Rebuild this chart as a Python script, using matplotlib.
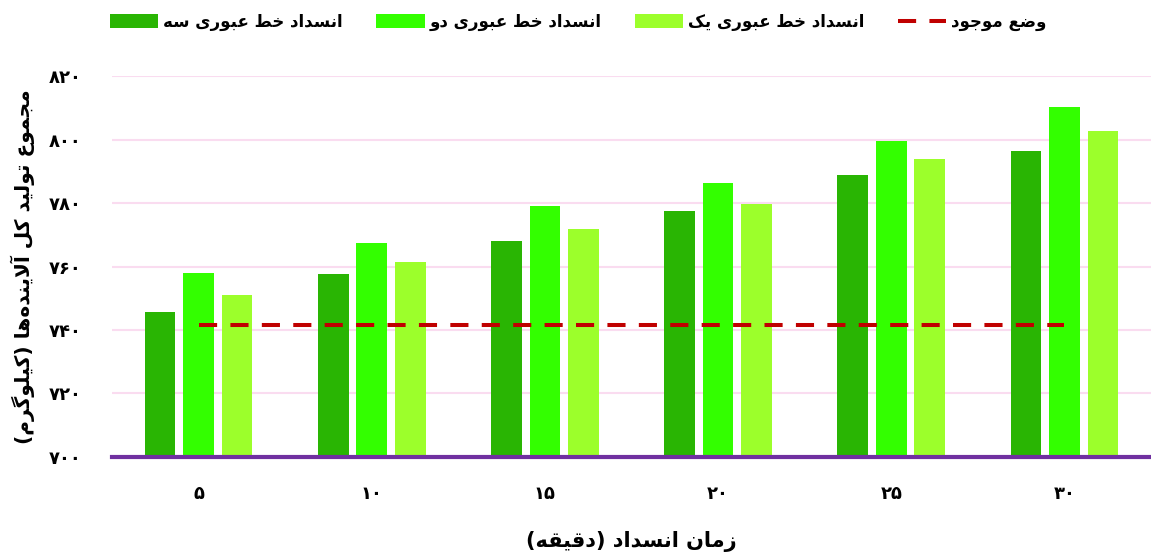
import matplotlib
matplotlib.use('Agg')
import matplotlib.pyplot as plt
import numpy as np

# داده‌ها
minutes = [5, 10, 15, 20, 25, 30]
line3 = [745.7, 757.6, 768.0, 777.5, 788.8, 796.4]   # انسداد خط عبوری سه
line2 = [758.0, 767.4, 779.0, 786.3, 799.5, 810.2]   # انسداد خط عبوری دو
line1 = [751.0, 761.4, 771.8, 779.7, 793.9, 802.7]   # انسداد خط عبوری یک
current = [741.6, 741.6, 741.6, 741.6, 741.6, 741.6]  # وضع موجود

y_ticks = [700, 720, 740, 760, 780, 800, 820]

labels = ['انسداد خط عبوری سه', 'انسداد خط عبوری دو', 'انسداد خط عبوری یک', 'وضع موجود']
x_title = 'زمان انسداد (دقیقه)'
y_title = 'مجموع تولید کل آلاینده‌ها (کیلوگرم)'

# شکل‌دهی ساده حروف فارسی (matplotlib خودش این کار را نمی‌کند)
FORMS = {
    'ا': ('\uFE8D', '\uFE8E', None, None),
    'آ': ('\uFE81', '\uFE82', None, None),
    'د': ('\uFEA9', '\uFEAA', None, None),
    'ر': ('\uFEAD', '\uFEAE', None, None),
    'ز': ('\uFEAF', '\uFEB0', None, None),
    'و': ('\uFEED', '\uFEEE', None, None),
    'ب': ('\uFE8F', '\uFE90', '\uFE91', '\uFE92'),
    'ت': ('\uFE95', '\uFE96', '\uFE97', '\uFE98'),
    'ج': ('\uFE9D', '\uFE9E', '\uFE9F', '\uFEA0'),
    'خ': ('\uFEA5', '\uFEA6', '\uFEA7', '\uFEA8'),
    'س': ('\uFEB1', '\uFEB2', '\uFEB3', '\uFEB4'),
    'ض': ('\uFEBD', '\uFEBE', '\uFEBF', '\uFEC0'),
    'ط': ('\uFEC1', '\uFEC2', '\uFEC3', '\uFEC4'),
    'ع': ('\uFEC9', '\uFECA', '\uFECB', '\uFECC'),
    'ق': ('\uFED5', '\uFED6', '\uFED7', '\uFED8'),
    'ل': ('\uFEDD', '\uFEDE', '\uFEDF', '\uFEE0'),
    'م': ('\uFEE1', '\uFEE2', '\uFEE3', '\uFEE4'),
    'ن': ('\uFEE5', '\uFEE6', '\uFEE7', '\uFEE8'),
    'ه': ('\uFEE9', '\uFEEA', '\uFEEB', '\uFEEC'),
    'ی': ('\uFBFC', '\uFBFD', '\uFBFE', '\uFBFF'),
    'ک': ('\uFB8E', '\uFB8F', '\uFB90', '\uFB91'),
    'گ': ('\uFB92', '\uFB93', '\uFB94', '\uFB95'),
}
LAM_ALEF = {'ا': ('\uFEFB', '\uFEFC'), 'آ': ('\uFEF5', '\uFEF6')}
MIRROR = {'(': ')', ')': '('}


def dual(c):
    return c in FORMS and FORMS[c][2] is not None


def fa(text):
    out = []
    i = 0
    n = len(text)
    while i < n:
        c = text[i]
        if c == '\u200c':
            i += 1
            continue
        if c not in FORMS:
            out.append(MIRROR.get(c, c))
            i += 1
            continue
        prev = text[i - 1] if i > 0 else ''
        nxt = text[i + 1] if i + 1 < n else ''
        join_prev = dual(prev)
        if c == 'ل' and nxt in LAM_ALEF:
            out.append(LAM_ALEF[nxt][1 if join_prev else 0])
            i += 2
            continue
        join_next = dual(c) and nxt in FORMS
        iso, fin, ini, med = FORMS[c]
        if join_prev and join_next:
            out.append(med)
        elif join_prev:
            out.append(fin)
        elif join_next:
            out.append(ini)
        else:
            out.append(iso)
        i += 1
    return ''.join(reversed(out))


def fa_num(v):
    return str(v).translate(str.maketrans('0123456789', '۰۱۲۳۴۵۶۷۸۹'))


plt.rcParams['font.family'] = ['DejaVu Sans']
plt.rcParams['font.weight'] = 'bold'

fig = plt.figure(figsize=(11.51, 5.55), dpi=100)
ax = fig.add_axes([0.0973, 0.1766, 0.9027, 0.6864])

x = np.arange(len(minutes))
w = 0.177
step = 0.222
b3 = ax.bar(x - step, line3, w, color='#29b503', label=fa(labels[0]), zorder=2)
b2 = ax.bar(x, line2, w, color='#33ff00', label=fa(labels[1]), zorder=2)
b1 = ax.bar(x + step, line1, w, color='#9cff2b', label=fa(labels[2]), zorder=2)
ln, = ax.plot(x, current, color='#c00000', linewidth=2.9, dashes=(4.5, 3.3),
              label=fa(labels[3]), zorder=3)

ax.set_xlim(-0.5, 5.5)
ax.set_ylim(700, 820)
ax.set_yticks(y_ticks)
ax.set_yticklabels([fa_num(v) for v in y_ticks], fontsize=13, fontweight='bold')
ax.set_xticks(x)
ax.set_xticklabels([fa_num(v) for v in minutes], fontsize=13, fontweight='bold')
ax.tick_params(axis='both', length=0)
ax.tick_params(axis='y', pad=22)
ax.tick_params(axis='x', pad=20)

ax.grid(axis='y', color='#fadcf0', linewidth=1.5, zorder=0)
ax.set_axisbelow(True)
for s in ['top', 'right', 'left']:
    ax.spines[s].set_visible(False)
ax.spines['bottom'].set_color('#7030a0')
ax.spines['bottom'].set_linewidth(3)
ax.spines['bottom'].set_zorder(4)

ax.set_xlabel(fa(x_title), fontsize=15, fontweight='bold', labelpad=20)
ax.set_ylabel(fa(y_title), fontsize=14.5, fontweight='bold', labelpad=10)

fig.legend([b3, b2, b1, ln], [fa(t) for t in labels],
           loc='upper left', bbox_to_anchor=(110 / 1151, 1 - 13 / 555), ncol=4,
           frameon=False, borderpad=0, borderaxespad=0,
           fontsize=12, handlelength=2.9, handleheight=0.9, columnspacing=2.0,
           handletextpad=0.3)

plt.savefig('out.png', dpi=100)
